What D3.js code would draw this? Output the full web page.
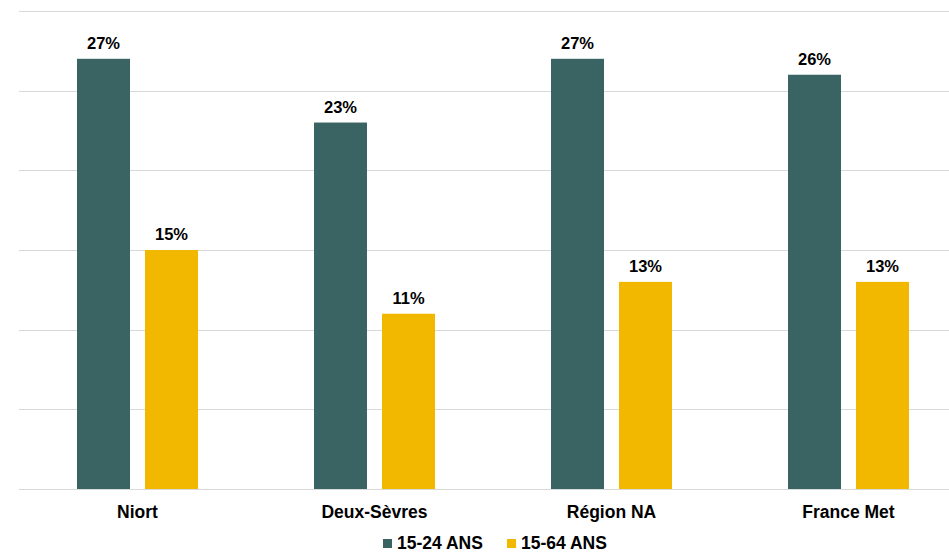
<!DOCTYPE html>
<html>
<head>
<meta charset="utf-8">
<script src="https://cdn.jsdelivr.net/npm/d3@7"></script>
<style>
  body { margin: 0; background: #fff; }
  svg text { font-family: "Liberation Sans", Arial, sans-serif; font-weight: bold; fill: #000; }
</style>
</head>
<body>
<div class="chart"></div>
<script>
var categories = ["Niort", "Deux-Sèvres", "Région NA", "France Met"];
var seriesNames = ["15-24 ANS", "15-64 ANS"];
var jeunes = [27, 23, 27, 26];
var actifs = [15, 11, 13, 13];
var yTicks = [0, 5, 10, 15, 20, 25, 30];
var colors = ["#3a6463", "#f2b800"];

var width = 949, height = 553;
var svg = d3.select('.chart').append('svg').attr('width', width).attr('height', height);

var x0 = d3.scaleBand().domain(categories).range([19, 967]);
var x1 = d3.scaleBand().domain(seriesNames).range([58, 179]).paddingInner(15 / 68);
var y = d3.scaleLinear().domain([0, 30]).range([489, 11]);

// gridlines
svg.selectAll('.grid').data(yTicks).enter()
  .append('line')
  .attr('x1', 19).attr('x2', width)
  .attr('y1', d => Math.round(y(d)) + 0.5).attr('y2', d => Math.round(y(d)) + 0.5)
  .attr('stroke', '#d9d9d9').attr('stroke-width', 1);

var data = categories.map((c, i) => ({cat: c, vals: [jeunes[i], actifs[i]]}));

var groups = svg.selectAll('.grp').data(data).enter()
  .append('g').attr('transform', d => `translate(${x0(d.cat)},0)`);

groups.selectAll('rect').data(d => d.vals.map((v, j) => ({s: seriesNames[j], v: v, j: j}))).enter()
  .append('rect')
  .attr('x', d => x1(d.s))
  .attr('y', d => y(d.v))
  .attr('width', x1.bandwidth())
  .attr('height', d => y(0) - y(d.v))
  .attr('fill', d => colors[d.j]);

groups.selectAll('.lbl').data(d => d.vals.map((v, j) => ({s: seriesNames[j], v: v}))).enter()
  .append('text')
  .attr('x', d => x1(d.s) + x1.bandwidth() / 2)
  .attr('y', d => y(d.v) - 10)
  .attr('text-anchor', 'middle')
  .style('font-size', '16.5px')
  .text(d => d.v + '%');

// category axis labels
svg.selectAll('.cat').data(categories).enter()
  .append('text')
  .attr('x', d => x0(d) + x0.bandwidth() / 2)
  .attr('y', 518)
  .attr('text-anchor', 'middle')
  .style('font-size', '17.5px')
  .text(d => d);

// legend
var legendX = [383, 507];
var leg = svg.selectAll('.leg').data(seriesNames).enter()
  .append('g').attr('transform', (d, i) => `translate(${legendX[i]},0)`);
leg.append('rect').attr('x', 0).attr('y', 539).attr('width', 9).attr('height', 9)
  .attr('fill', (d, i) => colors[i]);
leg.append('text').attr('x', 14).attr('y', 549).style('font-size', '17.5px').text(d => d);
</script>
</body>
</html>
